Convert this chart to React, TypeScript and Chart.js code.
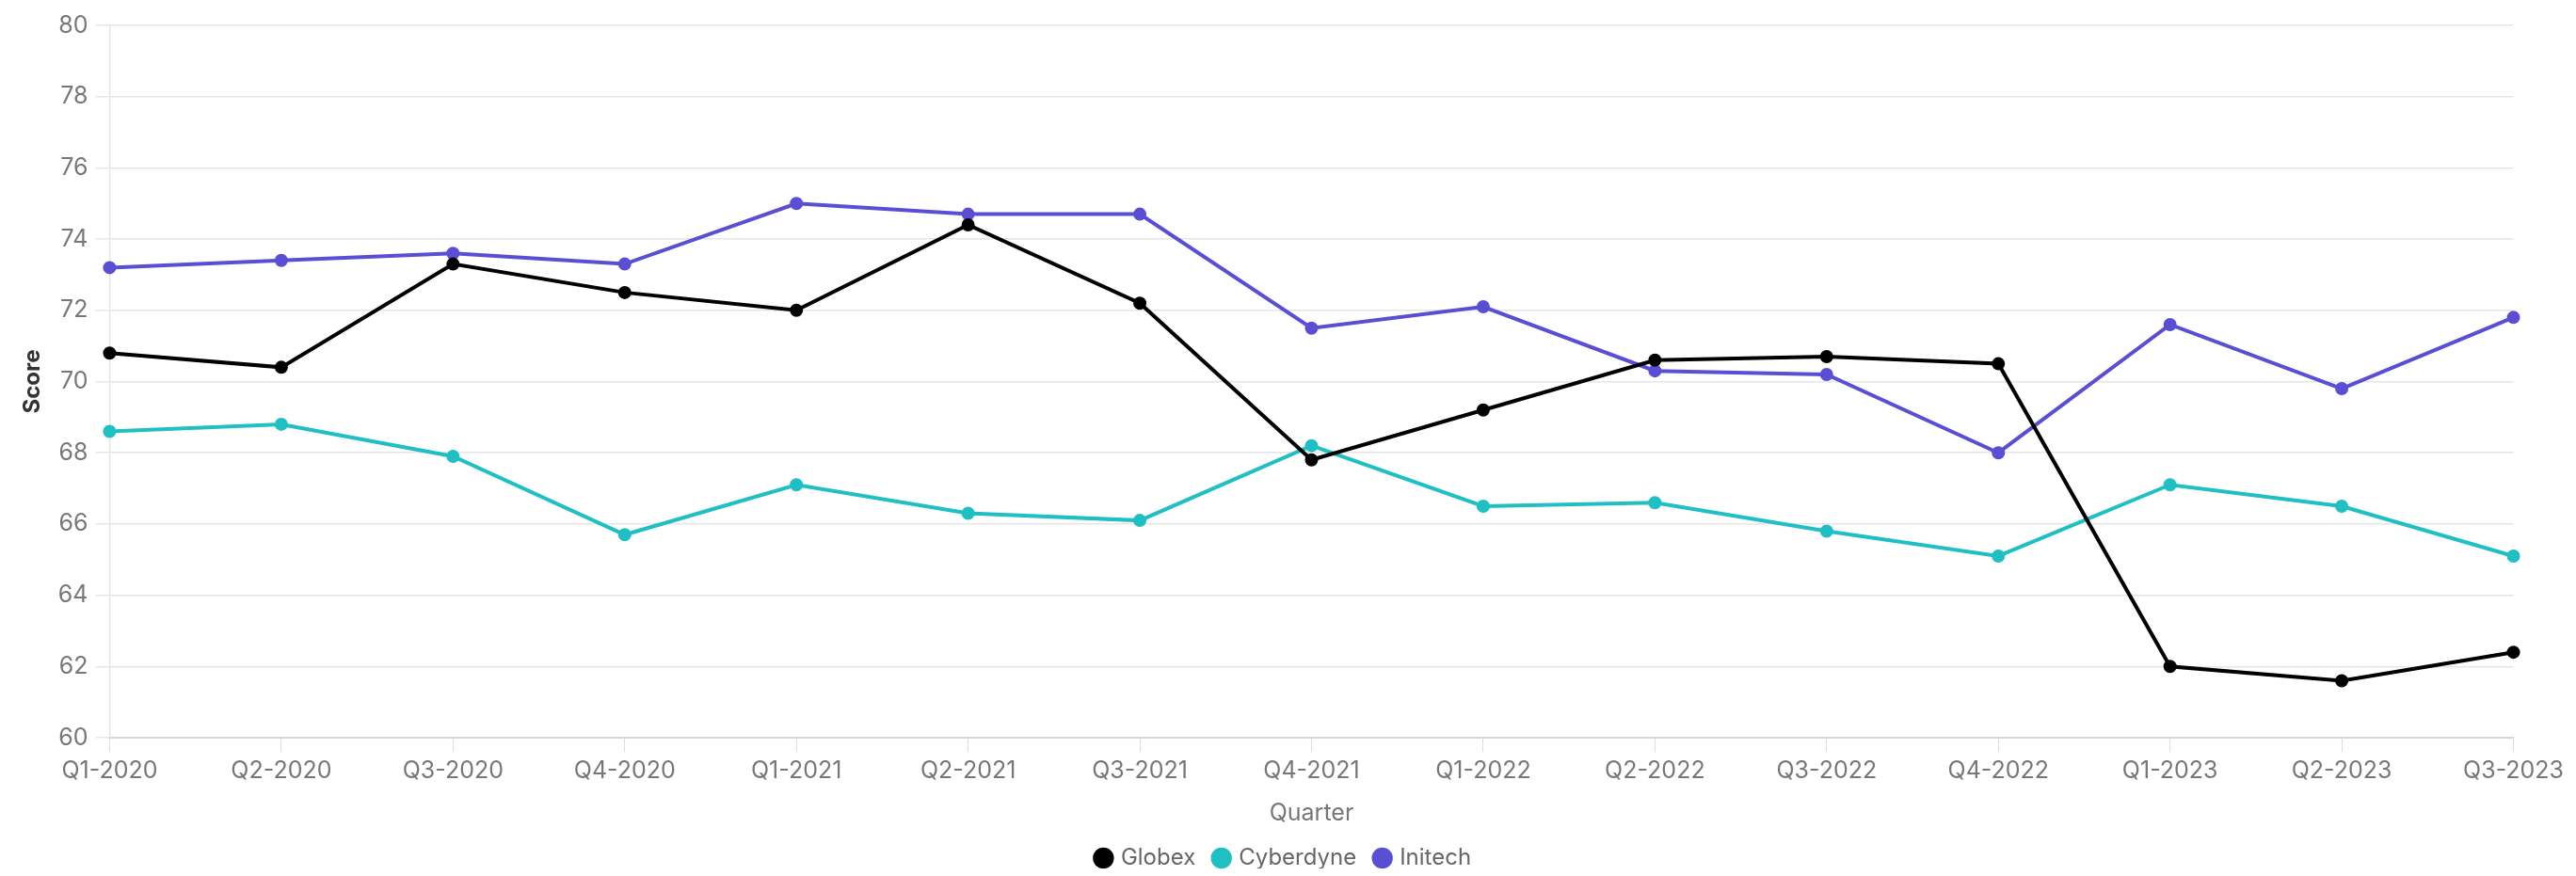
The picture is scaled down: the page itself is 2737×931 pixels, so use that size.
import React, { useEffect, useRef } from "react";
import { Chart, registerables } from "chart.js";

Chart.register(...registerables);

const quarters = [
  "Q1-2020", "Q2-2020", "Q3-2020", "Q4-2020",
  "Q1-2021", "Q2-2021", "Q3-2021", "Q4-2021",
  "Q1-2022", "Q2-2022", "Q3-2022", "Q4-2022",
  "Q1-2023", "Q2-2023", "Q3-2023",
];

const globex = [70.8, 70.4, 73.3, 72.5, 72.0, 74.4, 72.2, 67.8, 69.2, 70.6, 70.7, 70.5, 62.0, 61.6, 62.4];
const cyberdyne = [68.6, 68.8, 67.9, 65.7, 67.1, 66.3, 66.1, 68.2, 66.5, 66.6, 65.8, 65.1, 67.1, 66.5, 65.1];
const initech = [73.2, 73.4, 73.6, 73.3, 75.0, 74.7, 74.7, 71.5, 72.1, 70.3, 70.2, 68.0, 71.6, 69.8, 71.8];

const seriesNames = ["Globex", "Cyberdyne", "Initech"];
const seriesColors = ["#000000", "#1fbfc3", "#5a4fd4"];

const yMin = 60;
const yMax = 80;
const yStep = 2;

export default function App() {
  const ref = useRef<HTMLCanvasElement | null>(null);

  useEffect(() => {
    if (!ref.current) return;
    const font = "Inter, 'Noto Sans', sans-serif";
    const values = [globex, cyberdyne, initech];
    const chart = new Chart(ref.current, {
      type: "line",
      data: {
        labels: quarters,
        datasets: values.map((v, i) => ({
          label: seriesNames[i],
          data: v,
          borderColor: seriesColors[i],
          backgroundColor: seriesColors[i],
          pointBackgroundColor: seriesColors[i],
          pointBorderColor: seriesColors[i],
          borderWidth: 4,
          pointRadius: 5,
          pointHoverRadius: 5,
          tension: 0,
          fill: false,
        })),
      },
      options: {
        animation: false,
        responsive: true,
        maintainAspectRatio: false,
        layout: { padding: { top: 0, right: 20, left: 12, bottom: -11 } },
        plugins: {
          legend: {
            position: "bottom",
            labels: {
              usePointStyle: true,
              pointStyle: "circle",
              boxWidth: 13,
              boxHeight: 13,
              color: "#666666",
              font: { family: font, size: 24 },
              padding: 21,
            },
          },
          tooltip: { enabled: false },
        },
        scales: {
          x: {
            grid: {
              drawOnChartArea: false,
              drawTicks: true,
              tickLength: 15,
              color: "#dddddd",
            },
            border: { display: true, color: "#d6d6d6", width: 2 },
            ticks: {
              color: "#777777",
              font: { family: font, size: 25 },
              padding: 5,
              maxRotation: 0,
              autoSkip: false,
            },
            title: {
              display: true,
              text: "Quarter",
              color: "#777777",
              font: { family: font, size: 25 },
              padding: { top: 10, bottom: 0 },
            },
          },
          y: {
            min: yMin,
            max: yMax,
            grid: {
              color: "#e6e6e6",
              tickLength: 15,
              lineWidth: 1.5,
            },
            border: { display: true, color: "#e6e6e6", width: 1.5 },
            ticks: {
              stepSize: yStep,
              color: "#777777",
              font: { family: font, size: 25 },
              padding: 8,
            },
            title: {
              display: true,
              text: "Score",
              color: "#333333",
              font: { family: font, size: 24, weight: "bold" },
              padding: { top: 0, bottom: 5 },
            },
          },
        },
      },
    });
    return () => chart.destroy();
  }, []);

  return (
    <div style={{ width: "2721px", height: "919px", marginTop: "-4px", position: "relative" }}>
      <canvas ref={ref} />
    </div>
  );
}
